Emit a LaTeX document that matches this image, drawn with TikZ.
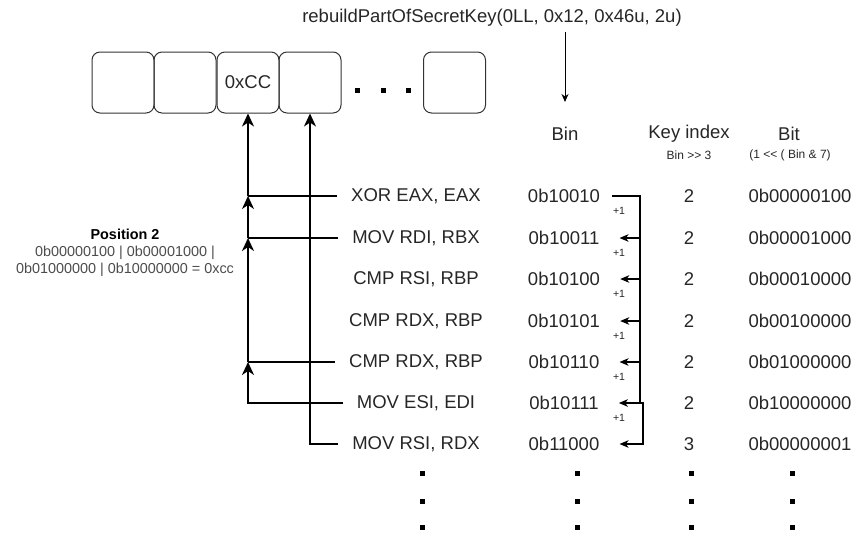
\documentclass[tikz,border=0pt]{standalone}
\usepackage{fontspec}
\setmainfont{Liberation Sans}
\usetikzlibrary{arrows.meta,calc}
\tikzset{
  upstealth/.tip={Stealth[length=13pt,width=12pt,inset=4pt]},
  binstealth/.tip={Stealth[length=9pt,width=7.5pt,inset=2.5pt]},
}
\begin{document}
\begin{tikzpicture}[x=1pt,y=-1pt,
  big/.style={font=\fontsize{18.5}{22}\selectfont, text=black!85, inner sep=0pt},
  small/.style={font=\fontsize{12}{14}\selectfont, text=black!85, inner sep=0pt},
  tiny/.style={font=\fontsize{10.5}{12}\selectfont, text=black!85, inner sep=0pt},
  cell/.style={draw=black!80, line width=1pt, rounded corners=8pt, minimum width=62pt, minimum height=61pt, inner sep=0pt, font=\fontsize{18.5}{22}\selectfont, text=black!85},
  instr/.style={big, inner xsep=14pt},
  thickline/.style={line width=2pt, draw=black},
  sq/.style={fill=black, draw=none, minimum size=5pt, inner sep=0pt},
]
\useasboundingbox (0,0) rectangle (865,542);

% title
\node[big] (fn) at (492,18) {rebuildPartOfSecretKey(0LL, 0x12, 0x46u, 2u)};

% key cells
\node[cell] (c1) at (123,82.5) {};
\node[cell] (c2) at (185,82.5) {};
\node[cell] (c3) at (248,82.5) {0xCC};
\node[cell] (c4) at (310,82.5) {};
\node[cell] (c5) at (454.5,82.5) {};
\node[sq] (h1) at (357,90) {};
\node[sq] (h2) at (383,90) {};
\node[sq] (h3) at (408,90) {};

% headers
\node[big] (hbin) at (565,134) {Bin};
\node[big] (hkey) at (689,134) {Key index};
\node[big] (hbit) at (789,134) {Bit};
\node[small] (skey) at (689,155) {Bin >\kern0pt> 3};
\node[small] (sbit) at (790,155) {(1 <\kern0pt< ( Bin \& 7)};

\coordinate (ta) at (565,32);
\coordinate (tb) at (565,102);
\draw[line width=1pt, -{Stealth[length=8pt,width=7pt,inset=2.5pt]}] (ta) -- (tb);

% rows
\node[instr] (i1) at (416,196) {XOR EAX, EAX};
\node[instr] (i2) at (416,238) {MOV RDI, RBX};
\node[instr] (i3) at (416,279) {CMP RSI, RBP};
\node[instr] (i4) at (416,321) {CMP RDX, RBP};
\node[instr] (i5) at (416,362) {CMP RDX, RBP};
\node[instr] (i6) at (416,403) {MOV ESI, EDI};
\node[instr] (i7) at (416,444) {MOV RSI, RDX};

\node[big] (b1) at (564,196) {0b10010};
\node[big] (b2) at (564,238) {0b10011};
\node[big] (b3) at (564,279) {0b10100};
\node[big] (b4) at (564,321) {0b10101};
\node[big] (b5) at (564,362) {0b10110};
\node[big] (b6) at (564,403) {0b10111};
\node[big] (b7) at (564,444) {0b11000};

\node[big] (k1) at (689,196) {2};
\node[big] (k2) at (689,238) {2};
\node[big] (k3) at (689,279) {2};
\node[big] (k4) at (689,321) {2};
\node[big] (k5) at (689,362) {2};
\node[big] (k6) at (689,403) {2};
\node[big] (k7) at (689,444) {3};

\node[big] (t1) at (800,196) {0b00000100};
\node[big] (t2) at (800,238) {0b00001000};
\node[big] (t3) at (800,279) {0b00010000};
\node[big] (t4) at (800,321) {0b00100000};
\node[big] (t5) at (800,362) {0b01000000};
\node[big] (t6) at (800,403) {0b10000000};
\node[big] (t7) at (800,444) {0b00000001};

% +1 labels
\node[tiny] (p1) at (619,211) {+1};
\node[tiny] (p2) at (619,253) {+1};
\node[tiny] (p3) at (619,294) {+1};
\node[tiny] (p4) at (619,336) {+1};
\node[tiny] (p5) at (619,377) {+1};
\node[tiny] (p6) at (619,418) {+1};

% position label
\node[align=center, inner sep=0pt, font=\fontsize{14.4}{17}\selectfont] (pos) at (125,253)
  {\textbf{Position 2}\\ \textcolor{black!70}{0b00000100 | 0b00001000 |}\\ \textcolor{black!70}{0b01000000 | 0b10000000 = 0xcc}};

% vertical dots
\foreach \xx/\nm in {422/a,577/b,691/c,792/d}{
  \node[sq] (v\nm1) at (\xx,473) {};
  \node[sq] (v\nm2) at (\xx,501) {};
  \node[sq] (v\nm3) at (\xx,527) {};
}

% left connectors to 0xCC
\draw[thickline, -upstealth] (i6.west) -- (c3.south |- i6) -- (c3.south |- i5);
\draw[thickline] (i5.west) -- (c3.south |- i5);
\draw[thickline, -upstealth] (c3.south |- i5) -- (c3.south |- i2);
\draw[thickline] (i2.west) -- (c3.south |- i2);
\draw[thickline, -upstealth] (c3.south |- i2) -- (c3.south |- i1);
\draw[thickline] (i1.west) -- (c3.south |- i1);
\draw[thickline, -upstealth] (c3.south |- i1) -- (c3.south);
% connector to next cell
\draw[thickline, -upstealth] (i7.west) -- (c4.south |- i7) -- (c4.south);

% bin increments
\coordinate (rail) at (640,0);
\coordinate (rail2) at (643,0);
\draw[line width=1.3pt, -binstealth] ($(b1.east)+(12,0)$) -- (rail |- b1) -- (rail |- b2) -- ($(b2.east)+(20,0)$);
\draw[line width=1.3pt, -binstealth] (rail |- b2) -- (rail |- b3) -- ($(b3.east)+(20,0)$);
\draw[line width=1.3pt, -binstealth] (rail |- b3) -- (rail |- b4) -- ($(b4.east)+(20,0)$);
\draw[line width=1.3pt, -binstealth] (rail |- b4) -- (rail |- b5) -- ($(b5.east)+(20,0)$);
\draw[line width=1.3pt, -binstealth] (rail |- b5) -- (rail |- b6) -- ($(b6.east)+(20,0)$);
\draw[line width=1.3pt, -binstealth] (rail |- b6) -- (rail2 |- b6) -- (rail2 |- b7) -- ($(b7.east)+(20,0)$);
\end{tikzpicture}
\end{document}
